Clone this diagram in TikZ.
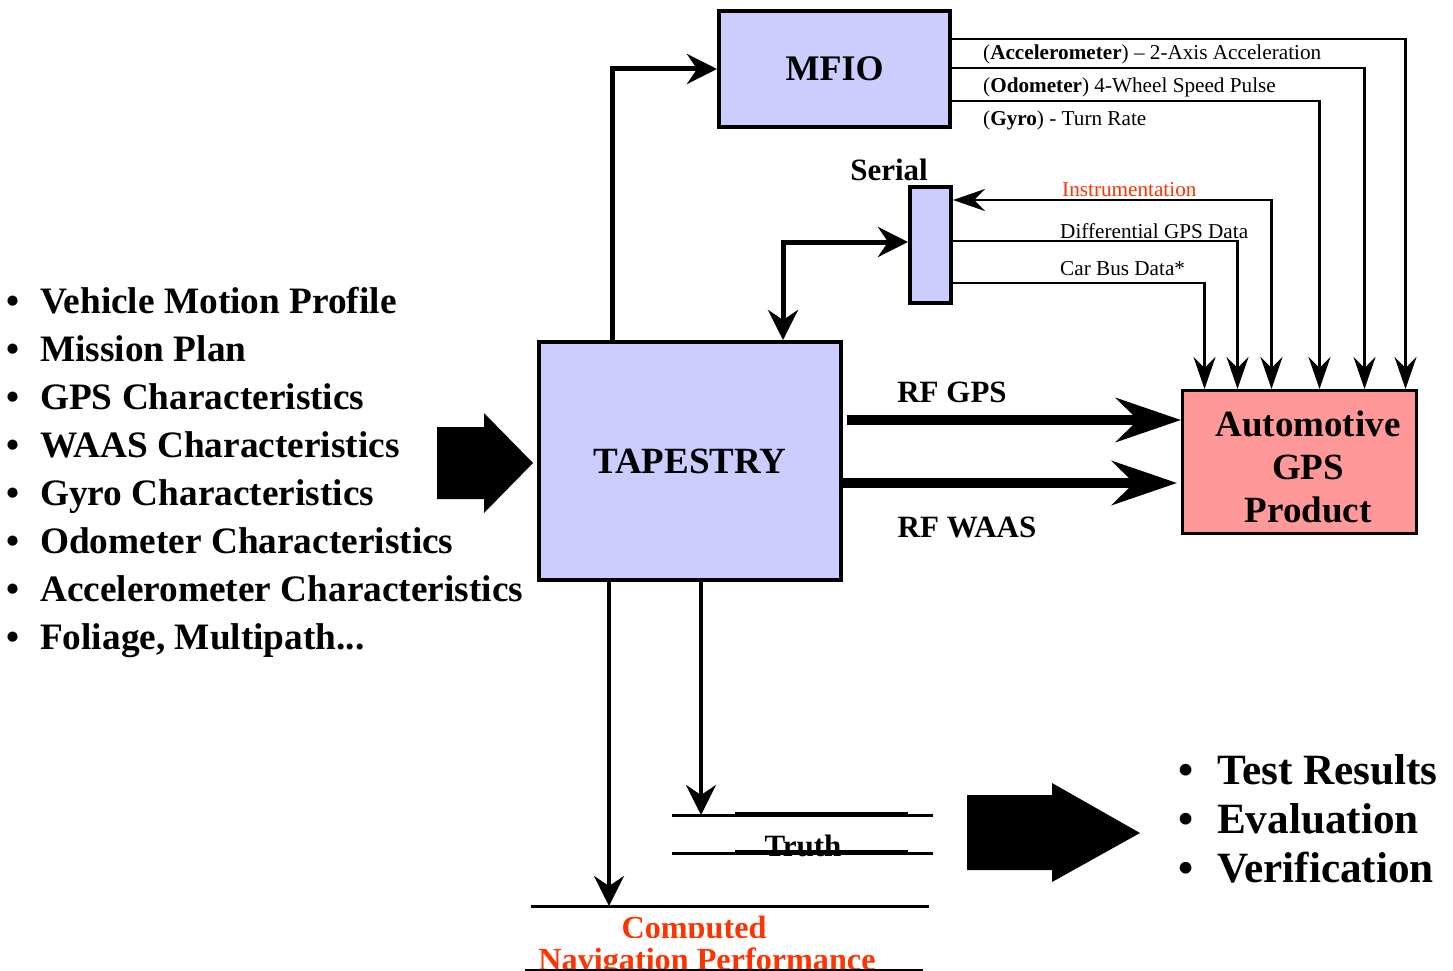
\documentclass[tikz,border=0pt]{standalone}
\usepackage{fontspec}
\setmainfont{Liberation Serif}
\usetikzlibrary{arrows.meta}
\definecolor{boxblue}{HTML}{CCCCFF}
\definecolor{boxred}{HTML}{FF9999}
\definecolor{labred}{HTML}{FF3300}
\tikzset{
  blk/.style={draw, line width=4pt, fill=boxblue, inner sep=0pt},
  redblk/.style={draw, line width=3pt, fill=boxred, inner sep=0pt},
  thinarr/.style={line width=2.5pt, -{Stealth[length=32pt,width=22pt,inset=11pt]}},
  thindbl/.style={line width=2.5pt, {Stealth[length=32pt,width=22pt,inset=11pt]}-{Stealth[length=32pt,width=22pt,inset=11pt]}},
  thickarr/.style={line width=5pt, -{Stealth[length=30pt,width=30pt,inset=10pt]}},
  dblarr/.style={line width=5pt, {Stealth[length=30pt,width=30pt,inset=10pt]}-{Stealth[length=30pt,width=30pt,inset=10pt]}},
  rfarr/.style={line width=10pt, -{Stealth[length=65pt,width=44pt,inset=22pt]}},
  bigtxt/.style={font=\fontsize{37}{43}\selectfont\bfseries, inner sep=0pt, align=center},
  midtxt/.style={font=\fontsize{31}{34}\selectfont\bfseries, inner sep=0pt},
  redtxt/.style={font=\fontsize{32.2}{34}\selectfont\bfseries, inner sep=0pt, text=labred},
  smalltxt/.style={font=\fontsize{21.2}{23}\selectfont, inner sep=0pt, anchor=base west},
  listtxt/.style={font=\fontsize{37.3}{40}\selectfont\bfseries, inner sep=0pt, anchor=base west},
  rlisttxt/.style={font=\fontsize{43.2}{46}\selectfont\bfseries, inner sep=0pt, anchor=base west},
  plainline/.style={line width=3pt},
}
\newcommand{\lbul}[1]{\makebox[34pt][l]{\textbullet}#1}
\newcommand{\rbul}[1]{\makebox[39pt][l]{\textbullet}#1}
\begin{document}
\begin{tikzpicture}[x=1pt,y=-1pt]
\useasboundingbox (0,0) rectangle (1453,971);

% boxes
\node[blk, minimum width=231pt, minimum height=116pt, font=\fontsize{36}{40}\selectfont\bfseries] (mfio) at (834.5,69) {MFIO};
\node[blk, minimum width=41pt, minimum height=116pt] (serial) at (930.5,245) {};
\node[blk, minimum width=302pt, minimum height=238pt, font=\fontsize{37}{40}\selectfont\bfseries] (tap) at (690,461) {TAPESTRY};
\node[redblk, minimum width=234pt, minimum height=143pt] (auto) at (1299.5,462) {};
\node[bigtxt] (autotext) at (1308,467) {Automotive\\GPS\\Product};

\node[midtxt] (seriallab) at (889,170) {Serial};

% left list
\node[listtxt] (L1) at (6,313) {\lbul{Vehicle Motion Profile}};
\node[listtxt] (L2) at (6,361) {\lbul{Mission Plan}};
\node[listtxt] (L3) at (6,409) {\lbul{GPS Characteristics}};
\node[listtxt] (L4) at (6,457) {\lbul{WAAS Characteristics}};
\node[listtxt] (L5) at (6,505) {\lbul{Gyro Characteristics}};
\node[listtxt] (L6) at (6,553) {\lbul{Odometer Characteristics}};
\node[listtxt] (L7) at (6,601) {\lbul{Accelerometer Characteristics}};
\node[listtxt] (L8) at (6,649) {\lbul{Foliage, Multipath...}};

% right list
\node[rlisttxt] (R1) at (1178,784) {\rbul{Test Results}};
\node[rlisttxt] (R2) at (1178,833) {\rbul{Evaluation}};
\node[rlisttxt] (R3) at (1178,882) {\rbul{Verification}};

% block arrows
\fill (437,427) -- (484,427) -- (484,413) -- (533,463) -- (484,513) -- (484,499) -- (437,499) -- cycle;
\fill (967,795) -- (1052,795) -- (1052,783) -- (1140,833) -- (1052,882) -- (1052,870) -- (967,870) -- cycle;

% TAPESTRY to MFIO and Serial
\draw[thickarr] ([xshift=75pt]tap.north west) |- (mfio.west);
\draw[dblarr] ([xshift=246pt]tap.north west) |- ([yshift=3pt]serial.west);

% MFIO outputs
\draw[thinarr] ([yshift=-30pt]mfio.north east) -| ([xshift=224.5pt]auto.north west);
\draw[thinarr] ([yshift=-59pt]mfio.north east) -| ([xshift=183.5pt]auto.north west);
\draw[thinarr] ([yshift=-92pt]mfio.north east) -| ([xshift=138.5pt]auto.north west);
\node[smalltxt] (acc) at (983,60) {(\textbf{Accelerometer}) -- 2-Axis Acceleration};
\node[smalltxt] (odo) at (983,93) {(\textbf{Odometer}) 4-Wheel Speed Pulse};
\node[smalltxt] (gyro) at (983,126) {(\textbf{Gyro}) - Turn Rate};

% Serial lines
\draw[thindbl] ([xshift=90.5pt]auto.north west) |- ([yshift=-15pt]serial.north east);
\draw[thinarr] ([yshift=-56pt]serial.north east) -| ([xshift=56.5pt]auto.north west);
\draw[thinarr] ([yshift=-98pt]serial.north east) -| ([xshift=23.5pt]auto.north west);
\node[smalltxt, text=labred] (instr) at (1062,196) {Instrumentation};
\node[smalltxt] (dgps) at (1060,238) {Differential GPS Data};
\node[smalltxt] (cbus) at (1060,275) {Car Bus Data*};

% RF
\draw[rfarr] ([yshift=41pt,xshift=4pt]tap.east) -- ([yshift=42pt]auto.west);
\draw[rfarr] ([yshift=-22pt]tap.east) -- ([yshift=-21pt,xshift=-4pt]auto.west);
\node[midtxt] (rfgps) at (952,392) {RF GPS};
\node[midtxt] (rfwaas) at (967,527) {RF WAAS};

% Truth
\coordinate (t1a) at (672,815);
\coordinate (t1b) at (933,815);
\coordinate (t2a) at (672,853);
\coordinate (t2b) at (933,853);
\node[midtxt, anchor=base] (truth) at (803,856) {Truth};
\draw[plainline] (t1a) -- (t1b);
\draw[line width=5pt] (735,814) -- (908,814);
\draw[plainline] (t2a) -- (t2b);
\draw[line width=5pt] (735,852) -- (908,852);

% Computed
\coordinate (c1a) at (531,906);
\coordinate (c1b) at (929,906);
\coordinate (c2a) at (525,969.5);
\coordinate (c2b) at (923,969.5);
\begin{scope}
\clip (500,908) rectangle (960,937.5);
\node[redtxt, anchor=base] (comp) at (694,938) {Computed};
\end{scope}
\begin{scope}
\clip (500,938) rectangle (960,968);
\node[redtxt, anchor=base] (navp) at (707,970) {Navigation Performance};
\end{scope}
\draw[plainline] (c1a) -- (c1b);
\draw[line width=2pt] (c2a) -- (c2b);

% down arrows
\draw[thickarr, line width=4pt] ([xshift=72pt]tap.south west) coordinate (d1) -- (d1 |- c1a);
\draw[thickarr, line width=4pt] ([xshift=164pt]tap.south west) coordinate (d2) -- (d2 |- t1a);
\end{tikzpicture}
\end{document}
